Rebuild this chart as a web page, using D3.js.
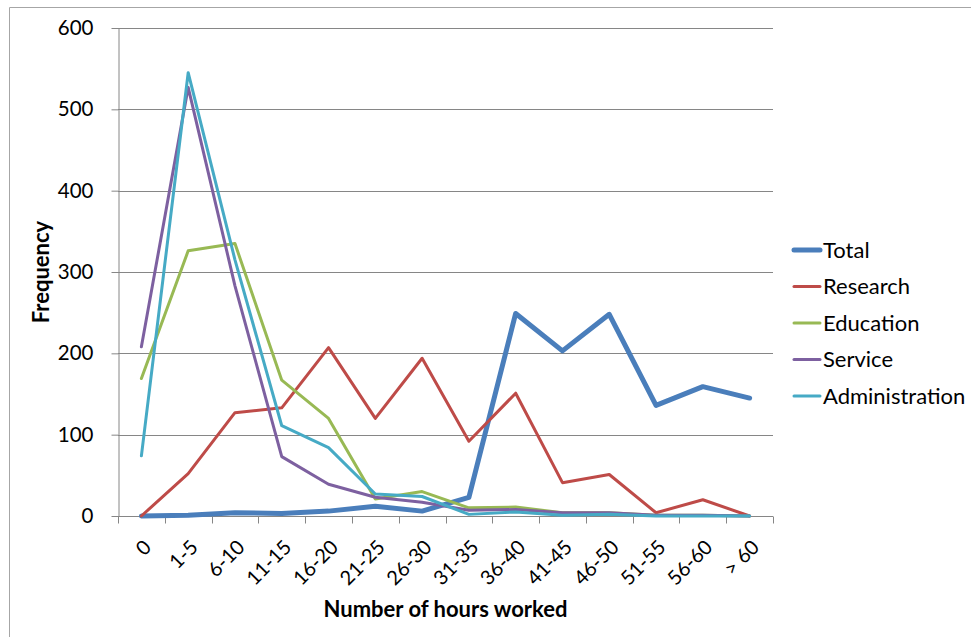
<!DOCTYPE html>
<html>
<head>
<meta charset="utf-8">
<script src="https://cdn.jsdelivr.net/npm/d3@7"></script>
<style>
  html, body { margin: 0; padding: 0; background: #fff; }
  svg { display: block; }
  text { font-family: Lato, "Open Sans", sans-serif; fill: #000; }
</style>
</head>
<body>
<svg id="chart" width="971" height="637"></svg>
<script>
const categories = ["0","1-5","6-10","11-15","16-20","21-25","26-30","31-35","36-40","41-45","46-50","51-55","56-60","> 60"];
const total          = [0, 1, 4, 3, 6, 12, 6, 23, 249, 203, 248, 136, 159, 145];
const research       = [0, 52, 127, 133, 207, 120, 194, 92, 151, 41, 51, 4, 20, 0];
const education      = [169, 326, 335, 167, 120, 21, 30, 10, 11, 4, 4, 1, 1, 0];
const service        = [208, 527, 283, 73, 39, 23, 17, 7, 8, 4, 4, 1, 1, 0];
const administration = [74, 545, 315, 111, 84, 27, 24, 2, 5, 1, 2, 0, 0, 0];
const yTicks = [0, 100, 200, 300, 400, 500, 600];

const seriesNames  = ["Total", "Research", "Education", "Service", "Administration"];
const seriesValues = [total, research, education, service, administration];
const seriesColors = ["#4a7ebb", "#be4b48", "#98b954", "#7d60a0", "#46aac5"];
const seriesWidths = [5, 3, 3, 3, 3];

const svg = d3.select("#chart");
const pLeft = 118, pRight = 773, pTop = 28, pBottom = 516;

// outer frame (top and left edges visible)
svg.append("line").attr("x1", 9.5).attr("x2", 971).attr("y1", 7.5).attr("y2", 7.5)
  .attr("stroke", "#a6a6a6").attr("stroke-width", 1);
svg.append("line").attr("x1", 9.5).attr("x2", 9.5).attr("y1", 7.5).attr("y2", 637)
  .attr("stroke", "#a6a6a6").attr("stroke-width", 1);

const x = d3.scaleBand().domain(categories).range([pLeft, pRight]);
const y = d3.scaleLinear().domain([0, 600]).range([pBottom, pTop]);

// gridlines
svg.append("g").selectAll("line").data(yTicks.filter(d => d > 0)).join("line")
  .attr("x1", pLeft).attr("x2", pRight)
  .attr("y1", d => Math.round(y(d)) + 0.5).attr("y2", d => Math.round(y(d)) + 0.5)
  .attr("stroke", "#868686").attr("stroke-width", 1);

// y axis
const yAxis = svg.append("g").attr("transform", `translate(${pLeft + 0.5},0)`)
  .call(d3.axisLeft(y).tickValues(yTicks).tickSize(7).tickPadding(18).tickSizeOuter(0));
yAxis.select(".domain").attr("stroke", "#868686");
yAxis.selectAll(".tick line").attr("stroke", "#868686");
yAxis.selectAll(".tick text").attr("font-size", 20.5).attr("font-family", "Lato, sans-serif").attr("fill", "#000");

// x axis
const xAxisG = svg.append("g").attr("transform", `translate(0,${pBottom + 0.5})`);
xAxisG.append("line").attr("x1", pLeft).attr("x2", pRight).attr("stroke", "#868686");
const bounds = categories.map(c => x(c)).concat([pRight]);
xAxisG.selectAll("line.tk").data(bounds).join("line").attr("class", "tk")
  .attr("x1", d => Math.round(d) + 0.5).attr("x2", d => Math.round(d) + 0.5)
  .attr("y1", 0).attr("y2", 7).attr("stroke", "#868686");
xAxisG.selectAll("text").data(categories).join("text")
  .attr("transform", d => `translate(${x(d) + x.bandwidth() / 2 + 6},${27}) rotate(-45)`)
  .attr("text-anchor", "end")
  .attr("dy", "0.35em")
  .attr("font-size", 20)
  .text(d => d);

// lines
const line = d3.line()
  .x((d, i) => x(categories[i]) + x.bandwidth() / 2)
  .y(d => y(d));
seriesValues.forEach((vals, k) => {
  svg.append("path").datum(vals)
    .attr("fill", "none")
    .attr("stroke", seriesColors[k])
    .attr("stroke-width", seriesWidths[k])
    .attr("stroke-linejoin", "round")
    .attr("stroke-linecap", "round")
    .attr("d", line);
});

// axis titles
svg.append("text").attr("x", (pLeft + pRight) / 2).attr("y", 617)
  .attr("text-anchor", "middle").attr("font-size", 22).attr("font-weight", "bold")
  .text("Number of hours worked");
svg.append("text").attr("transform", `translate(49,${(pTop + pBottom) / 2}) rotate(-90)`)
  .attr("text-anchor", "middle").attr("font-size", 22).attr("font-weight", "bold")
  .text("Frequency");

// legend
const legend = svg.append("g");
seriesNames.forEach((name, k) => {
  const ly = 250 + k * 36.5;
  legend.append("line").attr("x1", 794).attr("x2", 820).attr("y1", ly).attr("y2", ly)
    .attr("stroke", seriesColors[k]).attr("stroke-width", seriesWidths[k])
    .attr("stroke-linecap", "round");
  legend.append("text").attr("x", 823).attr("y", ly).attr("dy", "0.35em")
    .attr("font-size", 22).text(name);
});
</script>
</body>
</html>
